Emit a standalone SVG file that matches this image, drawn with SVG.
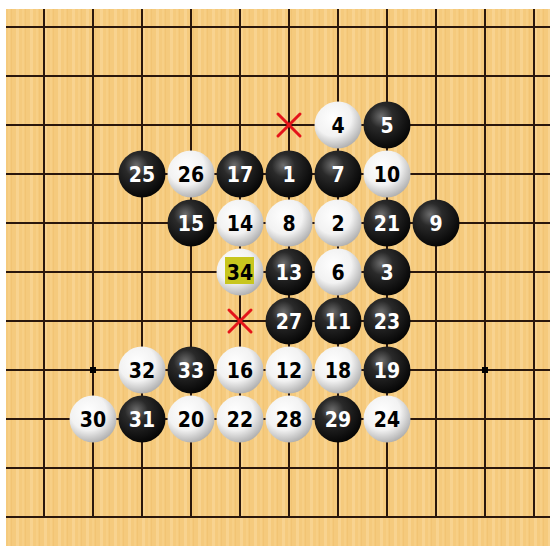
<svg xmlns="http://www.w3.org/2000/svg" width="552" height="546" viewBox="0 0 552 546">
<defs>
<pattern id="wood" x="0" y="0" width="14" height="546" patternUnits="userSpaceOnUse">
<rect width="14" height="546" fill="#F5CA7D"/>
<rect x="2" width="3" height="546" fill="#F8D390"/>
<rect x="8" width="2" height="546" fill="#F7CF86"/>
<rect x="11" width="1" height="546" fill="#F2C474"/>
</pattern>
<radialGradient id="gb" cx="0.38" cy="0.32" r="0.7">
<stop offset="0" stop-color="#6e6e6e"/>
<stop offset="0.35" stop-color="#2a2a2a"/>
<stop offset="1" stop-color="#050505"/>
</radialGradient>
<radialGradient id="gw" cx="0.4" cy="0.35" r="0.7">
<stop offset="0" stop-color="#ffffff"/>
<stop offset="0.55" stop-color="#f2f2f2"/>
<stop offset="1" stop-color="#a9a9a9"/>
</radialGradient>
<circle id="b" r="23.5" fill="url(#gb)"/>
<circle id="w" r="23.5" fill="url(#gw)"/>
</defs>
<style>
.ln{stroke:#2a170c;stroke-width:2;fill:none}
.t{font-family:"DejaVu Sans Condensed","Liberation Sans Narrow","Liberation Sans",sans-serif;font-stretch:condensed;font-weight:bold;font-size:21px;text-anchor:middle}
.tb{fill:#ffffff}
.tw{fill:#000000}
.x{stroke:#e4141a;stroke-width:3;stroke-linecap:round}
</style>
<rect width="552" height="546" fill="#ffffff"/>
<rect x="6" y="9" width="544" height="537" fill="url(#wood)"/>
<g id="grid" class="ln">
<path d="M44 9V517M93 9V517M142 9V517M191 9V517M240 9V517M289 9V517M338 9V517M387 9V517M436 9V517M485 9V517M534 9V517"/>
<path d="M6 27H550M6 76H550M6 125H550M6 174H550M6 223H550M6 272H550M6 321H550M6 370H550M6 419H550M6 468H550M6 517H550"/>
</g>
<g id="stars" fill="#000">
<rect x="90" y="367" width="6" height="6"/>
<rect x="482" y="367" width="6" height="6"/>
</g>
<g id="connectors"></g>
<g id="mark-a" class="x"><path d="M278 114L300 136M300 114L278 136"/></g>
<g id="mark-b" class="x"><path d="M229 310L251 332M251 310L229 332"/></g>
<g id="s1"><use href="#b" x="289" y="174"/><text class="t tb" x="289" y="182">1</text></g>
<g id="s2"><use href="#w" x="338" y="223"/><text class="t tw" x="338" y="231">2</text></g>
<g id="s3"><use href="#b" x="387" y="272"/><text class="t tb" x="387" y="280">3</text></g>
<g id="s4"><use href="#w" x="338" y="125"/><text class="t tw" x="338" y="133">4</text></g>
<g id="s5"><use href="#b" x="387" y="125"/><text class="t tb" x="387" y="133">5</text></g>
<g id="s6"><use href="#w" x="338" y="272"/><text class="t tw" x="338" y="280">6</text></g>
<g id="s7"><use href="#b" x="338" y="174"/><text class="t tb" x="338" y="182">7</text></g>
<g id="s8"><use href="#w" x="289" y="223"/><text class="t tw" x="289" y="231">8</text></g>
<g id="s9"><use href="#b" x="436" y="223"/><text class="t tb" x="436" y="231">9</text></g>
<g id="s10"><use href="#w" x="387" y="174"/><text class="t tw" x="387" y="182">10</text></g>
<g id="s11"><use href="#b" x="338" y="321"/><text class="t tb" x="338" y="329">11</text></g>
<g id="s12"><use href="#w" x="289" y="370"/><text class="t tw" x="289" y="378">12</text></g>
<g id="s13"><use href="#b" x="289" y="272"/><text class="t tb" x="289" y="280">13</text></g>
<g id="s14"><use href="#w" x="240" y="223"/><text class="t tw" x="240" y="231">14</text></g>
<g id="s15"><use href="#b" x="191" y="223"/><text class="t tb" x="191" y="231">15</text></g>
<g id="s16"><use href="#w" x="240" y="370"/><text class="t tw" x="240" y="378">16</text></g>
<g id="s17"><use href="#b" x="240" y="174"/><text class="t tb" x="240" y="182">17</text></g>
<g id="s18"><use href="#w" x="338" y="370"/><text class="t tw" x="338" y="378">18</text></g>
<g id="s19"><use href="#b" x="387" y="370"/><text class="t tb" x="387" y="378">19</text></g>
<g id="s20"><use href="#w" x="191" y="419"/><text class="t tw" x="191" y="427">20</text></g>
<g id="s21"><use href="#b" x="387" y="223"/><text class="t tb" x="387" y="231">21</text></g>
<g id="s22"><use href="#w" x="240" y="419"/><text class="t tw" x="240" y="427">22</text></g>
<g id="s23"><use href="#b" x="387" y="321"/><text class="t tb" x="387" y="329">23</text></g>
<g id="s24"><use href="#w" x="387" y="419"/><text class="t tw" x="387" y="427">24</text></g>
<g id="s25"><use href="#b" x="142" y="174"/><text class="t tb" x="142" y="182">25</text></g>
<g id="s26"><use href="#w" x="191" y="174"/><text class="t tw" x="191" y="182">26</text></g>
<g id="s27"><use href="#b" x="289" y="321"/><text class="t tb" x="289" y="329">27</text></g>
<g id="s28"><use href="#w" x="289" y="419"/><text class="t tw" x="289" y="427">28</text></g>
<g id="s29"><use href="#b" x="338" y="419"/><text class="t tb" x="338" y="427">29</text></g>
<g id="s30"><use href="#w" x="93" y="419"/><text class="t tw" x="93" y="427">30</text></g>
<g id="s31"><use href="#b" x="142" y="419"/><text class="t tb" x="142" y="427">31</text></g>
<g id="s32"><use href="#w" x="142" y="370"/><text class="t tw" x="142" y="378">32</text></g>
<g id="s33"><use href="#b" x="191" y="370"/><text class="t tb" x="191" y="378">33</text></g>
<g id="s34"><use href="#w" x="240" y="272"/><rect x="225" y="257" width="29" height="27" fill="#C8C61E"/><text class="t tw" x="240" y="280">34</text></g>
</svg>
